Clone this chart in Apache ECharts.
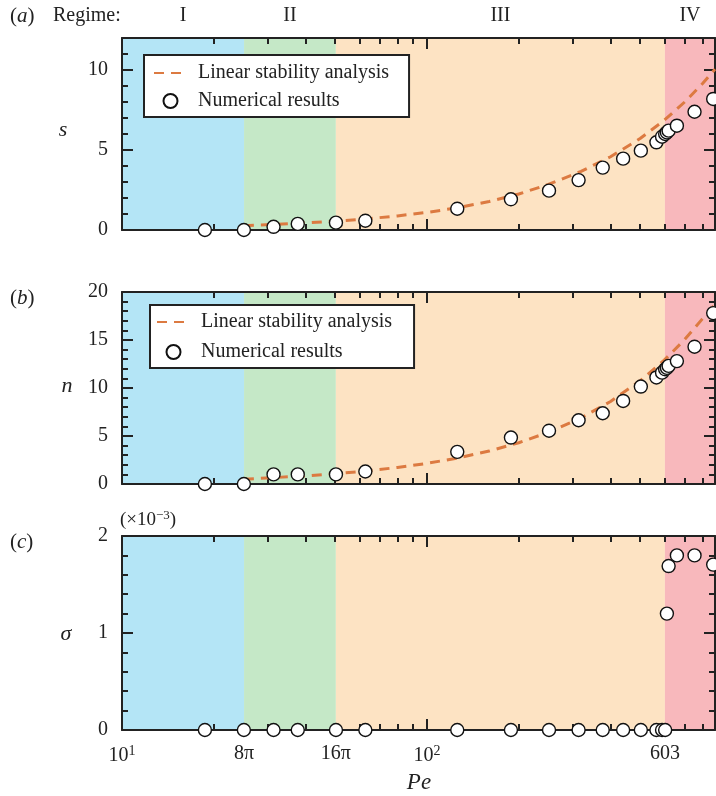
<!DOCTYPE html>
<html><head><meta charset="utf-8">
<script src="https://cdn.jsdelivr.net/npm/echarts@6/dist/echarts.min.js"></script>
<style>html,body{margin:0;padding:0;background:#fff}#c{width:716px;height:796px}</style>
</head><body><div id="c"></div>
<script>
// ---------------- data ----------------
const peValues = [18.7, 25.1, 31.4, 37.7, 50.3, 62.8, 125.7, 188.5, 251.3, 314.2, 377.0, 439.8, 502.7, 565.5, 590, 604, 612, 620, 660, 754, 868];
const sValues = [0, 0, 0.2, 0.38, 0.46, 0.58, 1.33, 1.92, 2.46, 3.12, 3.9, 4.46, 4.96, 5.48, 5.83, 6.0, 6.1, 6.21, 6.52, 7.39, 8.19];
const nValues = [0, 0, 1.0, 1.0, 1.0, 1.3, 3.35, 4.84, 5.55, 6.64, 7.37, 8.65, 10.15, 11.1, 11.6, 11.95, 12.1, 12.3, 12.8, 14.3, 17.8];
const sigmaValues = [0, 0, 0, 0, 0, 0, 0, 0, 0, 0, 0, 0, 0, 0, 0, 0, 1.2, 1.69, 1.8, 1.8, 1.705];
const linPe = [25.1, 32, 40, 50, 63, 80, 100, 125, 160, 200, 250, 320, 400, 500, 600, 700, 800, 880];
const sLinear = [0.27, 0.35, 0.44, 0.55, 0.69, 0.88, 1.1, 1.38, 1.78, 2.25, 2.85, 3.66, 4.58, 5.72, 6.86, 8.0, 9.14, 10.05];
const nLinear = [0.5, 0.68, 0.85, 1.07, 1.35, 1.72, 2.15, 2.68, 3.43, 4.3, 5.38, 6.88, 8.6, 10.75, 12.9, 15.05, 17.2, 18.7];
const regimeBounds = [10, 25.13, 50.27, 603, 880];
const regimeNames = ['I', 'II', 'III', 'IV'];
const regimeColors = ['#b4e5f6', '#c5e8c7', '#fde3c3', '#f8b8bc'];
const xLabelValues = [10, 25.1327, 50.2655, 100, 603];
const xLabelTexts = ['{m|10}{sup|1}', '{m|8π}', '{m|16π}', '{m|10}{sup|2}', '{m|603}'];
const xMinorTicks = [20, 30, 40, 50, 60, 70, 80, 90, 200, 300, 400, 500, 600, 700, 800];
const xMajorTicks = [100];
const yMaxes = [12, 20, 2];
const yLabelValues = [[0, 5, 10], [0, 5, 10, 15, 20], [0, 1, 2]];
const yMajorTicks = [[5, 10], [5, 10, 15], [1]];
const yMinorTicks = [[1, 2, 3, 4, 6, 7, 8, 9, 11], [1, 2, 3, 4, 6, 7, 8, 9, 11, 12, 13, 14, 16, 17, 18, 19], [0.2, 0.4, 0.6, 0.8, 1.2, 1.4, 1.6, 1.8]];
const seriesNames = ['Linear stability analysis', 'Numerical results'];

// ---------------- layout / style ----------------
const FONT = '"Liberation Serif","Times New Roman",serif';
const INK = '#222';
const grids = [
  {left: 122, width: 593, top: 38, height: 192},
  {left: 122, width: 593, top: 292, height: 192},
  {left: 122, width: 593, top: 536, height: 194}
];
const zip = (a, b) => a.map((v, i) => [v, b[i]]);
const tickStyle = {color: INK, width: 2};

const xAxis = [], yAxis = [];
grids.forEach((g, gi) => {
  const xc = {type: 'log', logBase: 10, gridIndex: gi, min: 10, max: 880, z: 3,
    splitLine: {show: false}, axisLabel: {show: false}, minorTick: {show: false}};
  ['bottom', 'top'].forEach(pos => {
    xAxis.push(Object.assign({}, xc, {position: pos,
      axisLine: {show: true, onZero: false, lineStyle: {color: INK, width: 2}},
      axisTick: {show: true, inside: true, length: 6, customValues: xMinorTicks, lineStyle: tickStyle}}));
    const lab = (gi === 2 && pos === 'bottom') ? {
      show: true, customValues: xLabelValues, margin: 14, color: INK,
      formatter: v => { const i = xLabelValues.findIndex(t => Math.abs(t - v) / t < 1e-3); return i >= 0 ? xLabelTexts[i] : ''; },
      rich: {m: {fontFamily: FONT, fontSize: 20, color: INK}, sup: {fontFamily: FONT, fontSize: 14, color: INK, padding: [0, 0, 10, 0]}}
    } : {show: false};
    xAxis.push(Object.assign({}, xc, {position: pos,
      axisLine: {show: false, onZero: false},
      axisTick: {show: true, inside: true, length: 11, customValues: xMajorTicks, lineStyle: tickStyle},
      axisLabel: lab}));
  });
  const yc = {type: 'value', gridIndex: gi, min: 0, max: yMaxes[gi], z: 3, splitLine: {show: false}};
  ['left', 'right'].forEach(pos => {
    yAxis.push(Object.assign({}, yc, {position: pos,
      axisLine: {show: true, onZero: false, lineStyle: {color: INK, width: 2}},
      axisTick: {show: true, inside: true, length: 6, customValues: yMinorTicks[gi], lineStyle: tickStyle},
      axisLabel: {show: false}}));
    yAxis.push(Object.assign({}, yc, {position: pos,
      axisLine: {show: false, onZero: false},
      axisTick: {show: true, inside: true, length: 11, customValues: yMajorTicks[gi], lineStyle: tickStyle},
      axisLabel: pos === 'left' ? {show: true, customValues: yLabelValues[gi], margin: 14, fontFamily: FONT, fontSize: 20, color: INK} : {show: false}}));
  });
});

const markArea = {
  silent: true, z: 1, label: {show: false},
  data: regimeNames.map((nm, i) => [{xAxis: regimeBounds[i], itemStyle: {color: regimeColors[i], opacity: 1}}, {xAxis: regimeBounds[i + 1]}])
};
const scatterStyle = {type: 'scatter', name: seriesNames[1], symbol: 'circle', symbolSize: 13, clip: false, z: 5,
  itemStyle: {color: '#fff', borderColor: '#111', borderWidth: 1.4, opacity: 1}};
const lineStyleS = {type: 'line', name: seriesNames[0], symbol: 'none', smooth: false, z: 4, clip: true,
  lineStyle: {color: '#dc7a41', width: 3, type: [10, 7]}, itemStyle: {color: '#dc7a41'}};

const series = [
  Object.assign({}, scatterStyle, {xAxisIndex: 0, yAxisIndex: 0, data: zip(peValues, sValues), markArea}),
  Object.assign({}, lineStyleS, {xAxisIndex: 0, yAxisIndex: 0, data: zip(linPe, sLinear)}),
  Object.assign({}, scatterStyle, {xAxisIndex: 4, yAxisIndex: 4, data: zip(peValues, nValues), markArea}),
  Object.assign({}, lineStyleS, {xAxisIndex: 4, yAxisIndex: 4, data: zip(linPe, nLinear)}),
  Object.assign({}, scatterStyle, {xAxisIndex: 8, yAxisIndex: 8, data: zip(peValues, sigmaValues), markArea})
];

const legendData = [
  {name: seriesNames[0], itemStyle: {color: 'rgba(0,0,0,0)', borderColor: 'rgba(0,0,0,0)', borderWidth: 0}},
  {name: seriesNames[1]}
];
const legendBase = {orient: 'vertical', data: legendData, itemWidth: 33, itemHeight: 14, selectedMode: false,
  backgroundColor: '#fff', borderColor: INK, borderWidth: 2, borderRadius: 0,
  textStyle: {fontFamily: FONT, fontSize: 20, color: INK, padding: [0, 0, 0, 6]}};
const legend = [
  Object.assign({}, legendBase, {left: 144, top: 55, itemGap: 8, padding: [8, 20, 6, 9]}),
  Object.assign({}, legendBase, {left: 150, top: 305, itemGap: 10, padding: [7, 22, 6, 6]})
];

const chart = echarts.init(document.getElementById('c'), null, {renderer: 'canvas'});
chart.setOption({
  animation: false,
  backgroundColor: '#fff',
  grid: grids.map(g => Object.assign({outerBoundsMode: 'none', containLabel: false}, g)),
  xAxis, yAxis, legend, series
});

// ---------------- text annotations ----------------
const txt = (x, y, text, extra) => ({type: 'text', x, y, z: 10, style: Object.assign({text, fontFamily: FONT, fontSize: 20, fill: INK, align: 'left', verticalAlign: 'middle'}, extra || {})});
const richParen = {p: {fontFamily: FONT, fontSize: 21, fill: INK}, i: {fontFamily: FONT, fontSize: 21, fontStyle: 'italic', fill: INK}};
const graphic = [
  txt(10, 16, '{p|(}{i|a}{p|)}', {rich: richParen}),
  txt(10, 298, '{p|(}{i|b}{p|)}', {rich: richParen}),
  txt(10, 542, '{p|(}{i|c}{p|)}', {rich: richParen}),
  txt(53, 16, 'Regime:'),
  txt(63, 130, 's', {fontStyle: 'italic', fontSize: 22, align: 'center'}),
  txt(67, 386, 'n', {fontStyle: 'italic', fontSize: 22, align: 'center'}),
  txt(66, 634, 'σ', {fontStyle: 'italic', fontSize: 22, align: 'center'}),
  txt(120, 520, '{a|(×10}{sup|−3}{a|)}', {rich: {a: {fontFamily: FONT, fontSize: 19, fill: INK}, sup: {fontFamily: FONT, fontSize: 13, fill: INK, padding: [0, 0, 9, 0]}}}),
  txt(419, 783, 'Pe', {fontStyle: 'italic', fontSize: 23, align: 'center'})
];
regimeNames.forEach((nm, i) => {
  const xm = Math.sqrt(regimeBounds[i] * regimeBounds[i + 1]);
  const px = chart.convertToPixel({xAxisIndex: 0}, xm);
  graphic.push(txt(px, 16, nm, {align: 'center'}));
});
chart.setOption({graphic});
</script>
</body></html>
